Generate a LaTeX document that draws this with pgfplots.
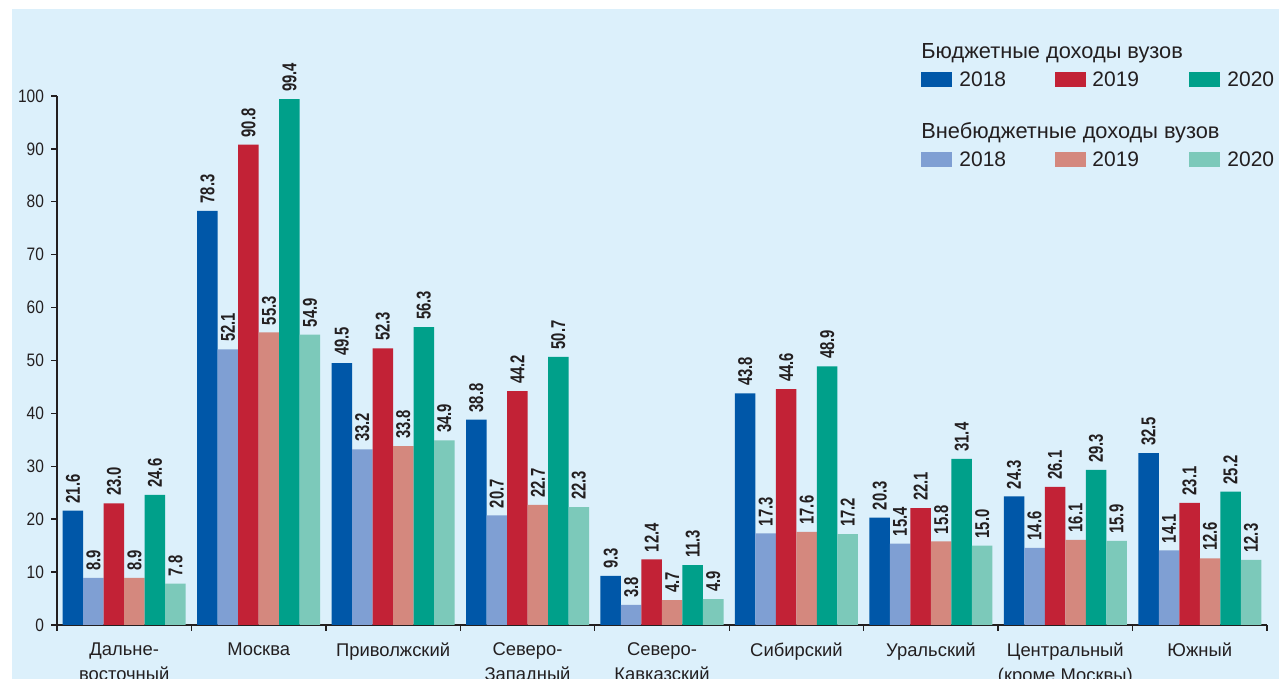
\documentclass[border=0pt]{standalone}
\usepackage{pgfplots}
\pgfplotsset{compat=1.18}
\usepackage{pgfplotstable}
\usepackage{fontspec}
\setmainfont{Liberation Sans}
\newfontfamily\condfont[FakeStretch=0.86]{Liberation Sans}
\newfontfamily\valfont[FakeStretch=0.74]{Liberation Sans}

\definecolor{bgblue}{HTML}{DCF0FB}
\definecolor{txt}{HTML}{231F20}
\definecolor{cbA}{HTML}{0057A8}
\definecolor{ceA}{HTML}{7F9FD3}
\definecolor{cbB}{HTML}{C22236}
\definecolor{ceB}{HTML}{D4887E}
\definecolor{cbC}{HTML}{00A08A}
\definecolor{ceC}{HTML}{7CC9BA}

% b = budget, e = extra-budget income; columns by year
\pgfplotstableread{
x b18 e18 b19 e19 b20 e20
0 21.6  8.9 23.0  8.9 24.6  7.8
1 78.3 52.1 90.8 55.3 99.4 54.9
2 49.5 33.2 52.3 33.8 56.3 34.9
3 38.8 20.7 44.2 22.7 50.7 22.3
4  9.3  3.8 12.4  4.7 11.3  4.9
5 43.8 17.3 44.6 17.6 48.9 17.2
6 20.3 15.4 22.1 15.8 31.4 15.0
7 24.3 14.6 26.1 16.1 29.3 15.9
8 32.5 14.1 23.1 12.6 25.2 12.3
}\datatab

\pgfplotsset{
  /pgf/number format/assume math mode=true,
}

\begin{document}
\begin{tikzpicture}[x=0.5pt,y=0.5pt]
\clip (0,0) rectangle (1279,679);
\fill[white] (0,0) rectangle (1279,679);
\fill[bgblue] (12,0) rectangle (1279,670);

\begin{axis}[
    at={(28.5pt,27pt)}, anchor=south west,
    scale only axis,
    width=605pt, height=264.5pt,
    ybar=0pt, bar width=10.25pt,
    enlargelimits=false,
    xmin=-0.5, xmax=8.5, ymin=0, ymax=100,
    axis x line*=bottom, axis y line*=left,
    axis line style={draw=txt, line width=0.7pt, -},
    tick align=outside,
    major tick length=3pt,
    tick style={draw=txt, line width=0.7pt},
    xtick={-0.5,0.5,...,8.5},
    x tick label as interval,
    xticklabels={Дальне-\\восточный, Москва, Приволжский, Северо-\\Западный,
                 Северо-\\Кавказский, Сибирский, Уральский,
                 Центральный\\(кроме Москвы), Южный},
    xticklabel style={align=center, font=\fontsize{9.2}{12.2}\selectfont, text=txt, yshift=-2.5pt},
    ytick={0,10,...,100},
    yticklabel style={font=\condfont\fontsize{9}{10}\selectfont, text=txt},
    nodes near coords={\pgfmathprintnumber[fixed,fixed zerofill,precision=1]{\pgfplotspointmeta}},
    every node near coord/.append style={rotate=90, anchor=west, inner sep=0pt, xshift=3.5pt,
        font=\valfont\bfseries\fontsize{10}{10}\selectfont, text=txt},
]
\addplot[fill=cbA, draw=none] table[x=x, y=b18] {\datatab};
\addplot[fill=ceA, draw=none] table[x=x, y=e18] {\datatab};
\addplot[fill=cbB, draw=none] table[x=x, y=b19] {\datatab};
\addplot[fill=ceB, draw=none] table[x=x, y=e19] {\datatab};
\addplot[fill=cbC, draw=none] table[x=x, y=b20] {\datatab};
\addplot[fill=ceC, draw=none] table[x=x, y=e20] {\datatab};
\end{axis}

% legend
\begin{scope}[every node/.style={inner sep=0pt, anchor=base west, text=txt, font=\fontsize{10.5}{12}\selectfont}]
\node[font=\fontsize{10.9}{12}\selectfont] at (921,620) {Бюджетные доходы вузов};
\fill[cbA] (921,592) rectangle (952,607); \node at (959,592) {2018};
\fill[cbB] (1055,592) rectangle (1086,607); \node at (1092,592) {2019};
\fill[cbC] (1189,592) rectangle (1220,607); \node at (1227,592) {2020};
\node[font=\fontsize{10.9}{12}\selectfont] at (921,540) {Внебюджетные доходы вузов};
\fill[ceA] (921,512) rectangle (952,527); \node at (959,512) {2018};
\fill[ceB] (1055,512) rectangle (1086,527); \node at (1092,512) {2019};
\fill[ceC] (1189,512) rectangle (1220,527); \node at (1227,512) {2020};
\end{scope}
\end{tikzpicture}
\end{document}
